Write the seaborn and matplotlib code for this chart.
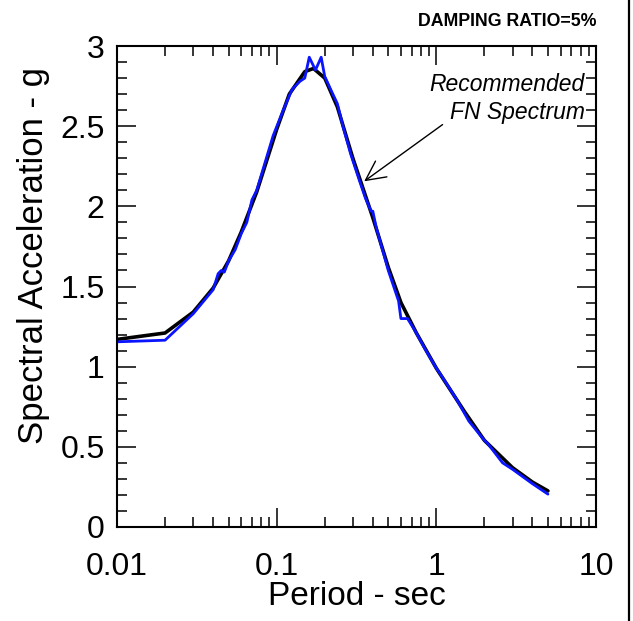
import numpy as np
import pandas as pd
import matplotlib
matplotlib.use("Agg")
import matplotlib.pyplot as plt
from matplotlib.lines import Line2D
from matplotlib.ticker import FixedLocator, FixedFormatter, LogLocator, MultipleLocator, NullFormatter
import seaborn as sns

# Recommended FN spectrum (black)
rec_period = [0.01, 0.02, 0.03, 0.04, 0.05, 0.06, 0.075, 0.1, 0.12, 0.15, 0.17, 0.2,
              0.24, 0.3, 0.4, 0.5, 0.6, 0.75, 1.0, 1.5, 2.0, 3.0, 4.0, 5.0]
rec_sa = [1.17, 1.21, 1.34, 1.49, 1.66, 1.84, 2.09, 2.48, 2.70, 2.84, 2.86, 2.80,
          2.62, 2.30, 1.93, 1.62, 1.40, 1.21, 0.99, 0.72, 0.54, 0.37, 0.28, 0.225]

# Matched time-history spectrum (blue)
fn_period = [0.01, 0.02, 0.03, 0.04, 0.043, 0.045, 0.047, 0.05, 0.055, 0.06, 0.065, 0.07,
             0.075, 0.085, 0.095, 0.11, 0.125, 0.14, 0.15, 0.16, 0.175, 0.19, 0.2, 0.22,
             0.24, 0.26, 0.29, 0.33, 0.36, 0.39, 0.40, 0.42, 0.5, 0.58, 0.6, 0.66, 0.73,
             0.85, 1.0, 1.05, 1.2, 1.35, 1.6, 2.0, 2.1, 2.6, 3.0, 4.0, 5.0]
fn_sa = [1.155, 1.165, 1.33, 1.48, 1.58, 1.60, 1.59, 1.66, 1.73, 1.83, 1.90, 2.04,
         2.10, 2.28, 2.44, 2.60, 2.73, 2.78, 2.80, 2.93, 2.85, 2.93, 2.81, 2.72,
         2.64, 2.50, 2.33, 2.16, 2.05, 1.97, 1.97, 1.87, 1.60, 1.41, 1.30, 1.30, 1.23,
         1.11, 0.99, 0.96, 0.87, 0.79, 0.66, 0.54, 0.52, 0.40, 0.36, 0.27, 0.205]

x_ticks = [0.01, 0.1, 1, 10]
x_tick_labels = ["0.01", "0.1", "1", "10"]
y_ticks = [0, 0.5, 1, 1.5, 2, 2.5, 3]
y_tick_labels = ["0", "0.5", "1", "1.5", "2", "2.5", "3"]

sns.set_style("ticks")
plt.rcParams['font.family'] = ['Liberation Sans', 'DejaVu Sans']
plt.rcParams['text.color'] = 'black'
plt.rcParams['axes.labelcolor'] = 'black'
plt.rcParams['xtick.color'] = 'black'
plt.rcParams['ytick.color'] = 'black'

fig = plt.figure(figsize=(6.33, 6.21), dpi=100)
ax = fig.add_axes([117/633, 1-527/621, (596-117)/633, (527-46)/621])

rec_df = pd.DataFrame({"period": rec_period, "sa": rec_sa})
fn_df = pd.DataFrame({"period": fn_period, "sa": fn_sa})
sns.lineplot(data=rec_df, x="period", y="sa", ax=ax, color="black", lw=2.6, estimator=None)
sns.lineplot(data=fn_df, x="period", y="sa", ax=ax, color="#0a14ff", lw=2.0, estimator=None)

ax.set_xscale("log")
ax.set_xlim(0.01, 10)
ax.set_ylim(0, 3)
ax.xaxis.set_major_locator(FixedLocator(x_ticks))
ax.xaxis.set_major_formatter(FixedFormatter(x_tick_labels))
ax.xaxis.set_minor_locator(LogLocator(base=10, subs=np.arange(2, 10)))
ax.xaxis.set_minor_formatter(NullFormatter())
ax.yaxis.set_major_locator(FixedLocator(y_ticks))
ax.yaxis.set_major_formatter(FixedFormatter(y_tick_labels))
ax.yaxis.set_minor_locator(MultipleLocator(0.1))

ax.tick_params(which="both", direction="in", top=True, right=True, colors="black",
               width=1.1, labelsize=23)
ax.tick_params(which="major", length=14)
ax.tick_params(axis="x", which="major", pad=18)
ax.tick_params(axis="y", which="major", pad=9)
ax.tick_params(which="minor", length=7)
for s in ax.spines.values():
    s.set_linewidth(1.5)
    s.set_color("black")

ax.set_xlabel("Period - sec", fontsize=24)
ax.set_ylabel("Spectral Acceleration - g", fontsize=25)
ax.xaxis.set_label_coords(0.5, -0.112)
ax.yaxis.set_label_coords(-0.14, 0.565)

ax.annotate("", xy=(0.342, 2.146), xytext=(1.13, 2.52),
            arrowprops=dict(arrowstyle="->", color="black", lw=1.0, mutation_scale=35))
ax.text(8.5, 2.673, "Recommended\nFN Spectrum", ha="right", va="center",
        fontsize=16.5, style="italic", linespacing=1.26)

fig.text(597/633, 1-22/621, "DAMPING RATIO=5%", ha="right", va="center",
         fontsize=12.8, weight="bold")
fig.add_artist(Line2D([629/633, 629/633], [0, 1], transform=fig.transFigure,
                      color="black", lw=1.6))

fig.savefig("out.png", dpi=100)
